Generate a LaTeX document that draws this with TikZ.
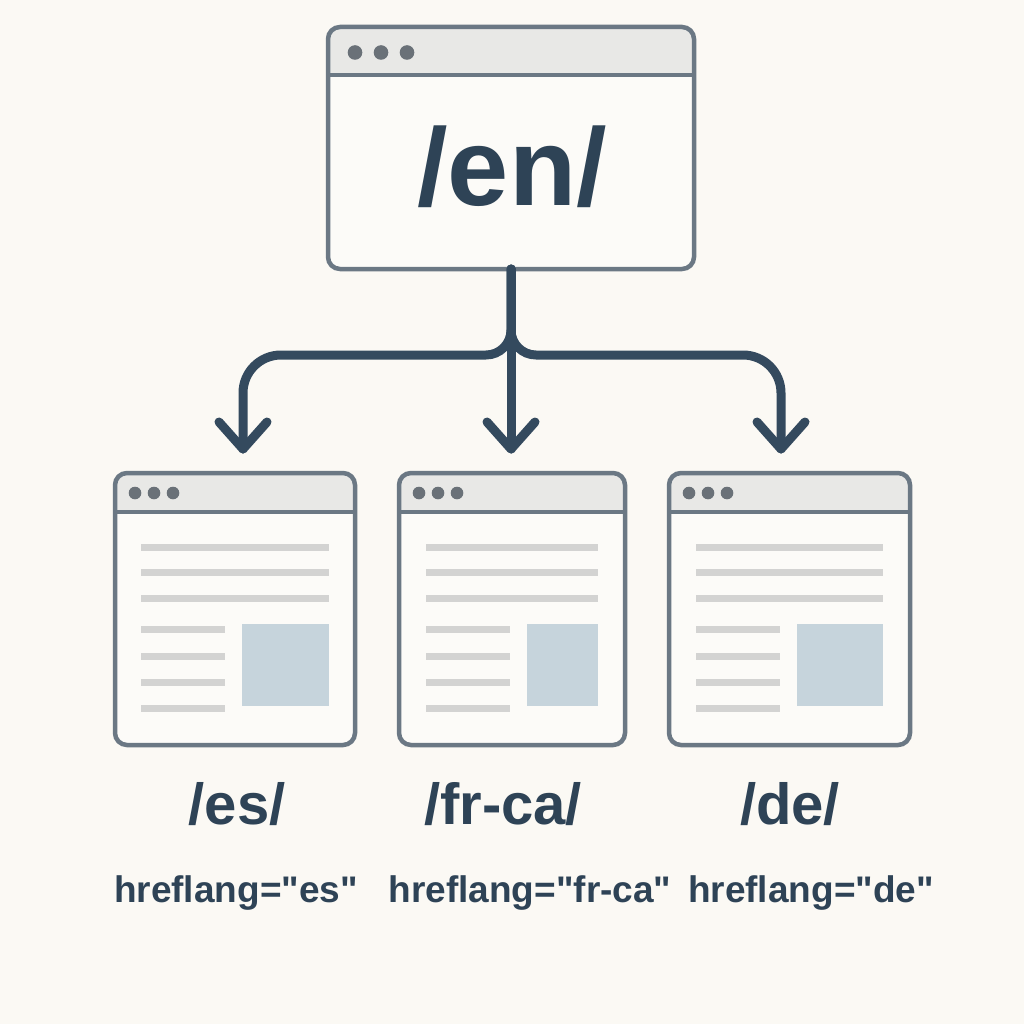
\documentclass[tikz,border=0pt]{standalone}
\usepackage{fontspec}
\newfontfamily\labfont{Liberation Sans}[Ligatures=ResetAll]
\definecolor{bgc}{HTML}{FBF9F4}
\definecolor{bodyc}{HTML}{FCFBF8}
\definecolor{hdrc}{HTML}{E8E8E6}
\definecolor{borderc}{HTML}{6B7884}
\definecolor{dotc}{HTML}{6A7178}
\definecolor{txtc}{HTML}{2E4356}
\definecolor{connc}{HTML}{344A5E}
\definecolor{lineg}{HTML}{D3D3D2}
\definecolor{imgc}{HTML}{C6D4DC}
\tikzset{
  win/.style={rectangle, inner sep=0pt, outer sep=0pt, fill=bodyc, rounded corners=12pt},
  frame/.style={draw=borderc, line width=4.5pt, rounded corners=12pt},
  sepline/.style={draw=borderc, line width=4pt},
  conn/.style={draw=connc, line width=9pt, line cap=round, line join=round},
  bigtxt/.style={text=txtc, font=\labfont\bfseries\fontsize{110}{120}\selectfont, anchor=base, inner sep=0pt},
  pathtxt/.style={text=txtc, font=\labfont\bfseries\fontsize{58}{64}\selectfont, anchor=base, inner sep=0pt},
  langtxt/.style={text=txtc, font=\labfont\bfseries\fontsize{37}{44}\selectfont, anchor=base, inner sep=0pt},
}
% name, x1, y1, x2, y2, header bottom
\newcommand\browserwin[6]{%
  \node[win, minimum width={#4-#2}, minimum height={#5-#3}] (#1) at ({(#2+#4)/2},{(#3+#5)/2}) {};
  \begin{scope}
    \clip[rounded corners=12pt] (#2,#3) rectangle (#4,#5);
    \fill[hdrc] (#2,#3) rectangle (#4,#6);
  \end{scope}
  \draw[sepline] (#2,#6) -- (#4,#6);
  \draw[frame] (#1.north west) rectangle (#1.south east);
}
% content of a small page: x left, x right long, x right short, image x1
\newcommand\pagecontent[4]{%
  \foreach \yy in {547,572,598} {\fill[lineg] (#1,\yy-3.5) rectangle (#2,\yy+3.5);}
  \foreach \yy in {629,656,682,708} {\fill[lineg] (#1,\yy-3.5) rectangle (#3,\yy+3.5);}
  \fill[imgc] (#4,624) rectangle (#2,706);
}
\begin{document}
\begin{tikzpicture}[x=1pt,y=-1pt]
\useasboundingbox (0,0) rectangle (1024,1024);
\fill[bgc] (0,0) rectangle (1024,1024);

% top window
\browserwin{en}{328}{27}{694}{269}{75}
\foreach \xx in {355,381,407} {\fill[dotc] (\xx,52.5) circle (7.3pt);}
\node[bigtxt] (entxt) at (512,206) {/en/};

% bottom windows
\browserwin{es}{115}{473}{355}{745}{512}
\foreach \xx in {135,154,173} {\fill[dotc] (\xx,493) circle (6.3pt);}
\pagecontent{141}{329}{225}{242}

\browserwin{fr}{399}{473}{625}{745}{512}
\foreach \xx in {419,438,457} {\fill[dotc] (\xx,493) circle (6.3pt);}
\pagecontent{426}{598}{510}{527}

\browserwin{de}{669}{473}{910}{745}{512}
\foreach \xx in {689,708,727} {\fill[dotc] (\xx,493) circle (6.3pt);}
\pagecontent{696}{883}{780}{797}

% arrow tips
\coordinate (estip) at (243,449);
\coordinate (frtip) at (511,449);
\coordinate (detip) at (781,449);

% connectors
\draw[conn] (en.south) -- (511,330) .. controls (511,343.8) and (499.8,355) .. (486,355)
  -- (281,355) .. controls (260,355) and (243,372) .. (243,393) -- (estip);
\draw[conn] (en.south) -- (511,330) .. controls (511,343.8) and (522.2,355) .. (536,355)
  -- (743,355) .. controls (764,355) and (781,372) .. (781,393) -- (detip);
\draw[conn] (en.south) -- (frtip);
\foreach \t in {estip,frtip,detip} {\draw[conn] (\t) ++(-24,-27) -- (\t) -- ++(24,-27);}

% labels
\node[pathtxt] (esl) at (237,824) {/es/};
\node[pathtxt] (frl) at (503,824) {/fr-ca/};
\node[pathtxt] (del) at (790,824) {/de/};
\node[langtxt] (esh) at (236,902) {hreflang="es"};
\node[langtxt] (frh) at (530,902) {hreflang="fr-ca"};
\node[langtxt] (deh) at (811,902) {hreflang="de"};
\end{tikzpicture}
\end{document}
